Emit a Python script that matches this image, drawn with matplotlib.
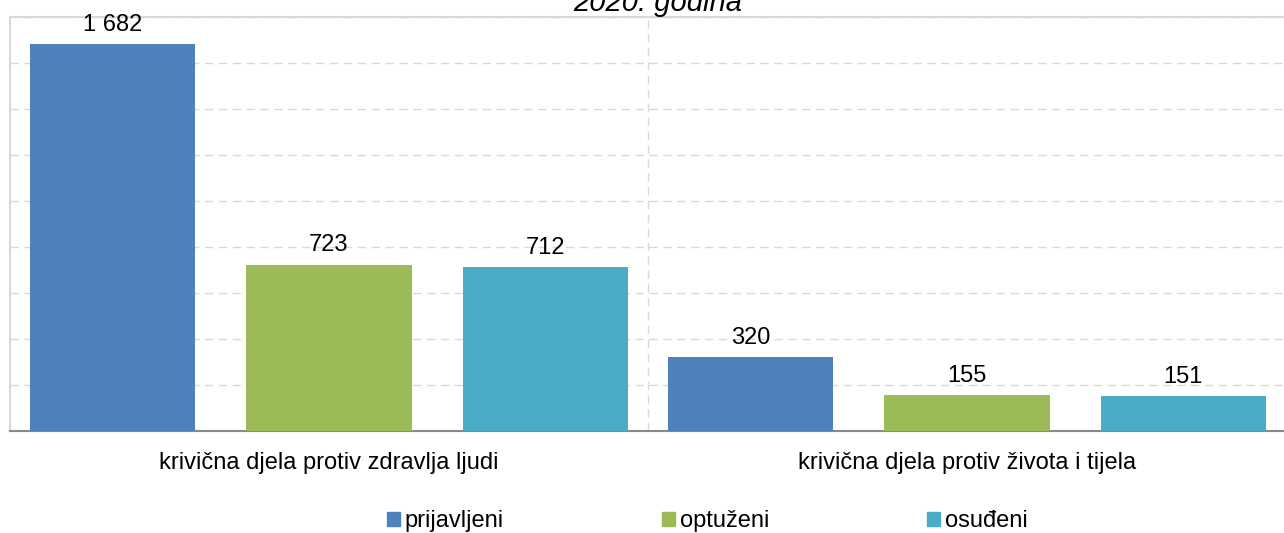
import numpy as np
import matplotlib.pyplot as plt
from matplotlib.patches import Patch

plt.rcParams['font.family'] = ['Liberation Sans', 'DejaVu Sans']

# data
categories = ['krivična djela protiv zdravlja ljudi', 'krivična djela protiv života i tijela']
series_names = ['prijavljeni', 'optuženi', 'osuđeni']
prijavljeni = [1682, 320]
optuzeni = [723, 155]
osudeni = [712, 151]
colors = ['#4F81BD', '#9BBB59', '#4BACC6']
title = '2020. godina'

values = [prijavljeni, optuzeni, osudeni]

fig = plt.figure(figsize=(12.84, 5.33), dpi=100)
ax = fig.add_axes([10 / 1284, 1 - 431 / 533, 1276 / 1284, 414 / 533])

x = np.arange(len(categories))
width = 0.259
step = 0.339
for i, (vals, col) in enumerate(zip(values, colors)):
    pos = x + (i - 1) * step
    ax.bar(pos, vals, width=width, color=col, zorder=3)
    for p, v in zip(pos, vals):
        label = f'{v:,}'.replace(',', ' ')
        ax.annotate(label, (p, v), xytext=(0, 6), textcoords='offset points',
                    ha='center', va='bottom', fontsize=17)

ax.set_xlim(-0.5, len(categories) - 0.5)
ax.set_ylim(0, 1800)
ax.set_yticks(np.arange(0, 1801, 200))
ax.set_yticklabels([])
ax.tick_params(axis='y', length=0)
ax.set_xticks(x)
ax.set_xticklabels(categories, fontsize=17)
ax.tick_params(axis='x', length=0, pad=15)

# horizontal gridlines and category separator
ax.grid(axis='y', color='#D9D9D9', linestyle=(0, (6, 4)), linewidth=1, zorder=0)
for b in x[:-1] + 0.5:
    ax.axvline(b, color='#D9D9D9', linestyle=(0, (6, 4)), linewidth=1, zorder=0)

for side in ['left', 'top', 'right']:
    ax.spines[side].set_color('#D9D9D9')
    ax.spines[side].set_linewidth(1.5)
ax.spines['bottom'].set_color('#898989')
ax.spines['bottom'].set_linewidth(1.5)

# title sits partly above the picture edge, as in the original
fig.text(0.512, 1 - 11 / 533, title, ha='center', va='baseline',
         fontsize=21, style='italic')

handles = [Patch(color=c) for c in colors]
fig.legend(handles, series_names, loc='center', bbox_to_anchor=(0.551, 1 - 521 / 533),
           ncol=3, frameon=False, fontsize=17, handlelength=0.55, handleheight=0.55,
           handletextpad=0.2, columnspacing=6.7)

fig.savefig('out.png', dpi=100)
